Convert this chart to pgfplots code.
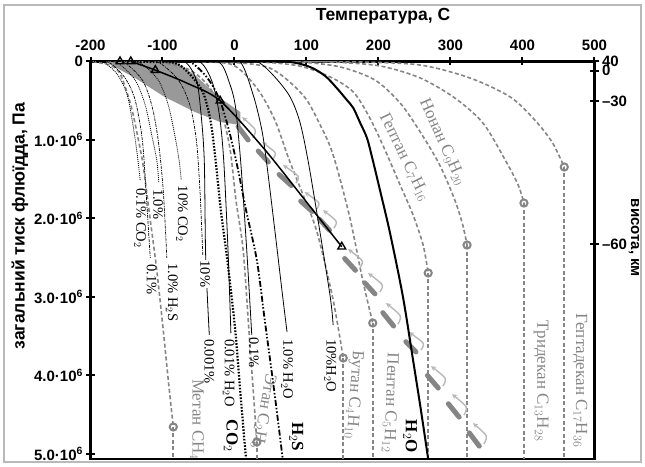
\documentclass[border=0pt]{standalone}
\usepackage{pgfplots}
\pgfplotsset{compat=1.18}
\usepackage{fontspec}
\setmainfont{Liberation Serif}
\setsansfont{Liberation Sans}
\usetikzlibrary{arrows.meta}

\definecolor{hc}{gray}{0.52}
\definecolor{band}{gray}{0.6}
\definecolor{arr}{gray}{0.72}
\newcommand\fT{\fontsize{17.5}{19}\selectfont}
\newcommand\fA{\fontsize{15}{17}\selectfont}
\newcommand\fL{\fontsize{14.5}{16}\selectfont}
\newcommand\fH{\fontsize{17}{19}\selectfont}

\pgfplotsset{
  base/.style={scale only axis, width=504pt, height=397.5pt,
    xmin=-200, xmax=500, ymin=0, ymax=5.064, y dir=reverse,
    at={(90.5pt,7pt)}, anchor=south west},
  hcl/.style={hc, line width=1.6pt, dash pattern=on 4pt off 2.5pt, smooth, tension=0.5},
  hcv/.style={hc, line width=1.6pt, dash pattern=on 4pt off 2.5pt},
  thinco/.style={black, line width=0.8pt, dash pattern=on 1pt off 1pt, smooth},
  thinhs/.style={black, line width=0.7pt, dash pattern=on 3pt off 1pt on 1pt off 1pt, smooth},
  thinho/.style={black, line width=0.8pt, smooth},
  arw/.style={arr, line width=1.4pt, smooth, -{Stealth[length=5pt,width=5pt]}},
}
\tikzset{
  lab/.style={font=\fL, rotate=-90, anchor=west, inner sep=1pt},
  hlab/.style={font=\fH, text=hc, anchor=west, inner sep=1pt},
}

\begin{document}
\begin{tikzpicture}
\useasboundingbox (0,0) rectangle (645pt,466pt);
\draw[gray!55, line width=1.2pt] (4pt,4pt) rectangle (641pt,461pt);

\begin{axis}[base,
  axis line style={line width=2.4pt},
  xtick={-200,-100,0,100,200,300,400,500},
  xticklabels={-200,-100,0,100,200,300,400,500},
  xtick pos=right, xticklabel pos=right,
  xticklabel style={yshift=3pt},
  ytick={0,1,2,3,4,5},
  yticklabels={0,{1.0·10\textsuperscript{6}},{2.0·10\textsuperscript{6}},{3.0·10\textsuperscript{6}},{4.0·10\textsuperscript{6}},{5.0·10\textsuperscript{6}}},
  ytick pos=left,
  tick align=center,
  major tick length=8pt,
  tick style={black, line width=2pt},
  ticklabel style={font=\sffamily\bfseries\fA},
]

% grey band
\addplot[fill=band, draw=none] coordinates {(-180,0) (-83,0) (-55,0.172) (-20,0.465) (8,0.643) (8,0.809) (-20,0.771) (-55,0.643) (-97,0.452) (-138,0.21) (-180,0)};

% hydrocarbons
\addplot[hcl] coordinates {(-197,0) (-185,0.02) (-170,0.057) (-158,0.172) (-144,0.554) (-134,0.975) (-127,1.318) (-117,2.019) (-108,2.656) (-99,3.42) (-92,4.057) (-85,4.656)};
\addplot[hcl] coordinates {(-130,0) (-104,0.01) (-62,0.108) (-34,0.338) (-17,0.682) (-6,1.127) (2,1.764) (12,2.401) (20,3.42) (26,4.185) (31,4.847)};
\addplot[hcl] coordinates {(-90,0) (-48,0.006) (-2,0.045) (31,0.338) (56,0.745) (76,1.255) (98,1.764) (115,2.185) (137,3.038) (151,3.777)};
\addplot[hcl] coordinates {(-60,0) (-13,0.006) (49,0.083) (95,0.427) (119,0.809) (137,1.19) (160,1.981) (178,2.783) (192,3.331)};
\addplot[hcl] coordinates {(-20,0) (35,0.006) (90,0.057) (133,0.197) (165,0.389) (188,0.72) (209,1.127) (230,1.573) (248,1.955) (262,2.338) (269,2.694)};
\addplot[hcl] coordinates {(30,0) (90,0.006) (147,0.07) (195,0.236) (230,0.529) (258,0.898) (285,1.318) (306,1.764) (317,2.083) (323,2.338)};
\addplot[hcl] coordinates {(60,0) (133,0.006) (202,0.057) (258,0.21) (306,0.465) (345,0.783) (376,1.255) (394,1.573) (402,1.803)};
\addplot[hcl] coordinates {(100,0) (174,0.006) (258,0.045) (327,0.21) (383,0.452) (417,0.745) (441,1.025) (458,1.344)};
\addplot[hcv] coordinates {(-85,4.656) (-85,5.064)};
\addplot[hcv] coordinates {(31,4.847) (31,5.064)};
\addplot[hcv] coordinates {(151,3.777) (151,5.064)};
\addplot[hcv] coordinates {(192,3.331) (192,5.064)};
\addplot[hcv] coordinates {(269,2.694) (269,5.064)};
\addplot[hcv] coordinates {(323,2.338) (323,5.064)};
\addplot[hcv] coordinates {(402,1.803) (402,5.064)};
\addplot[hcv] coordinates {(458,1.344) (458,5.064)};

% grey blobs along the path
\addplot[hc, line width=5pt, line cap=round, unbounded coords=jump] coordinates {
(5,0.83) (19,1.0) (nan,nan)
(33,1.14) (47,1.28) (nan,nan)
(62,1.44) (79,1.58) (nan,nan)
(92,1.78) (108,1.91) (nan,nan)
(118,2.01) (132,2.15) (nan,nan)
(153,2.51) (168,2.66) (nan,nan)
(181,2.82) (195,2.96) (nan,nan)
(206,3.20) (221,3.37) (nan,nan)
(238,3.57) (252,3.70) (nan,nan)
(268,4.0) (283,4.16) (nan,nan)
(297,4.36) (312,4.53) (nan,nan)
(326,4.73) (340,4.90)};
\addplot[arw] coordinates {(25.5,0.975) (28.5,0.867) (10.5,0.709)};
\addplot[arw] coordinates {(53.3,1.243) (56.3,1.16) (38.3,1.027)};
\addplot[arw] coordinates {(85.2,1.549) (88.2,1.46) (67.4,1.32)};
\addplot[arw] coordinates {(113.8,1.88) (116.8,1.797) (97.3,1.664)};
\addplot[arw] coordinates {(138,2.122) (141,2.033) (122.9,1.894)};
\addplot[arw] coordinates {(174.1,2.631) (177.1,2.536) (157.7,2.39)};
\addplot[arw] coordinates {(201.9,2.937) (204.9,2.842) (185.5,2.696)};
\addplot[arw] coordinates {(227,3.345) (230,3.237) (210.5,3.078)};
\addplot[arw] coordinates {(258.9,3.676) (261.9,3.587) (242.4,3.448)};
\addplot[arw] coordinates {(289.4,4.135) (292.4,4.033) (273,3.881)};
\addplot[arw] coordinates {(318.6,4.505) (321.6,4.397) (302.1,4.238)};
\addplot[arw] coordinates {(346.4,4.874) (349.4,4.766) (331.3,4.607)};

% thin CO2 mixtures
\addplot[thinco] coordinates {(-195,0) (-180,0.019) (-162,0.172) (-149,0.427) (-141,0.809) (-135,1.19) (-131,1.51)};
\addplot[thinco] coordinates {(-180,0) (-162,0.019) (-138,0.236) (-124,0.554) (-115,0.936) (-108,1.255) (-105,1.548)};
\addplot[thinco] coordinates {(-155,0) (-131,0.019) (-106,0.236) (-92,0.554) (-83,0.936) (-77,1.255) (-74,1.51)};
% thin H2S mixtures
\addplot[thinhs] coordinates {(-190,0) (-173,0.019) (-152,0.21) (-138,0.49) (-128,1.0) (-123,1.637) (-117,2.503)};
\addplot[thinhs] coordinates {(-170,0) (-152,0.019) (-128,0.236) (-115,0.554) (-106,1.0) (-99,1.637) (-94,2.503)};
\addplot[thinhs] coordinates {(-125,0) (-104,0.019) (-78,0.236) (-62,0.554) (-53,1.0) (-48,1.637) (-44,2.465)};
% thin H2O mixtures
\addplot[thinho] coordinates {(-100,0) (-69,0.006) (-53,0.236) (-47,0.618) (-42,1.255) (-40,2.49) (-35,3.484)};
\addplot[thinho] coordinates {(-80,0) (-48,0.006) (-31,0.261) (-21,0.682) (-15,1.255) (-9,2.401) (-5,3.459)};
\addplot[thinho] coordinates {(-50,0) (-20,0.019) (-6,0.3) (1,0.554) (6,1.0) (10,1.446) (17,2.401) (24,3.484)};
\addplot[thinho] coordinates {(-20,0) (8,0.006) (26,0.427) (38,0.873) (45,1.318) (56,2.147) (67,3.0) (73,3.446)};
\addplot[thinho] coordinates {(0,0) (35,0.019) (73,0.389) (90,0.745) (102,1.255) (116,2.019) (133,3.0) (137,3.357)};

% pure fluids
\addplot[black, line width=2.2pt, dash pattern=on 1.6pt off 1.6pt, smooth] coordinates {(-140,0) (-117,0.006) (-83,0.019) (-65,0.134) (-44,0.389) (-33,0.771) (-26,1.28) (-19,1.892) (-10,2.529) (1,3.42) (9,4.312) (16,5.064)};
\addplot[black, line width=1.8pt, dash pattern=on 6pt off 2pt on 1.5pt off 2pt on 1.5pt off 2pt, smooth] coordinates {(-90,0) (-62,0.006) (-41,0.172) (-27,0.363) (-17,0.58) (-6,0.936) (5,1.382) (16,1.892) (31,2.529) (42,3.293) (55,4.185) (67,5.064)};
\addplot[black, line width=2pt, smooth] coordinates {(-100,0) (21,0) (76,0.006) (105,0.07) (126,0.185) (142,0.338) (156,0.49) (165,0.592) (174,0.771) (184,0.975) (192,1.255) (202,1.637) (216,2.185) (234,3.0) (248,3.803) (259,4.446) (269,5.064)};

% critical line with triangles
\addplot[black, line width=1.5pt, smooth] coordinates {(-144,0) (-110,0.11) (-65,0.28) (-20,0.50) (40,1.1) (100,1.79) (149,2.36)};
\addplot[only marks, mark=triangle, mark size=4.5pt, mark options={black, fill=white, line width=1.4pt}] coordinates {(-159,0) (-144,0) (-110,0.11) (-20,0.50) (149,2.36)};

% circles
\addplot[only marks, mark=o, mark size=3.6pt, mark options={hc, fill=white, line width=2pt}] coordinates {(-85,4.656) (31,4.847) (151,3.777) (192,3.331) (269,2.694) (323,2.338) (402,1.803) (458,1.344)};

% labels
\node[lab] at (axis cs:-131,1.6) {0.1\% CO$_2$};
\node[lab] at (axis cs:-106,1.61) {1.0\%};
\node[lab] at (axis cs:-73,1.57) {10\% CO$_2$};
\node[lab] at (axis cs:-115,2.57) {0.1\%};
\node[lab] at (axis cs:-87,2.56) {1.0\% H$_2$S};
\node[lab, fill=white] at (axis cs:-41,2.52) {10\%};
\node[lab] at (axis cs:-35,3.52) {0.001\%};
\node[lab] at (axis cs:-8,3.52) {0.01\% H$_2$O};
\node[lab] at (axis cs:27,3.5) {0.1\%};
\node[lab] at (axis cs:73,3.52) {1.0\% H$_2$O};
\node[lab] at (axis cs:133,3.52) {10\%H$_2$O};
\node[lab, font=\fH\bfseries] at (axis cs:-5,4.55) {CO$_2$};
\node[lab, font=\fH\bfseries] at (axis cs:86,4.58) {H$_2$S};
\node[lab, font=\fH\bfseries] at (axis cs:244,4.55) {H$_2$O};

\node[hlab, rotate=-90] at (axis cs:-52,4.03) {Метан CH$_4$};
\node[hlab, rotate=-100] at (axis cs:50,3.97) {Этан C$_2$H$_6$};
\node[hlab, rotate=-94] at (axis cs:170,3.67) {Бутан C$_4$H$_{10}$};
\node[hlab, rotate=-92] at (axis cs:219,3.7) {Пентан C$_5$H$_{12}$};
\node[hlab, rotate=-64] at (axis cs:206,0.66) {Гептан C$_7$H$_{16}$};
\node[hlab, rotate=-66] at (axis cs:262,0.47) {Нонан C$_9$H$_{20}$};
\node[hlab, rotate=-90] at (axis cs:426,3.29) {Тридекан C$_{13}$H$_{28}$};
\node[hlab, rotate=-90] at (axis cs:480,3.2) {Гептадекан C$_{17}$H$_{36}$};
\end{axis}

\begin{axis}[base,
  axis x line=none, axis y line*=right,
  axis line style={line width=2.4pt},
  ytick={0,0.117,0.503,2.325},
  yticklabels={40,0,–30,–60},
  tick align=center,
  major tick length=8pt,
  tick style={black, line width=2pt},
  ticklabel style={font=\sffamily\bfseries\fA},
]
\addplot[draw=none] coordinates {(0,0) (1,1)};
\end{axis}

% axis titles
\node[font=\sffamily\bfseries\fT] at (383pt,450pt) {Температура, С};
\node[font=\sffamily\bfseries\fT, rotate=90] at (20pt,240pt) {загальний тиск флюїдда, Па};
\node[font=\sffamily\bfseries\fontsize{15}{17}\selectfont, rotate=-90, inner sep=0pt] at (634pt,228pt) {висота, км};
\end{tikzpicture}
\end{document}
